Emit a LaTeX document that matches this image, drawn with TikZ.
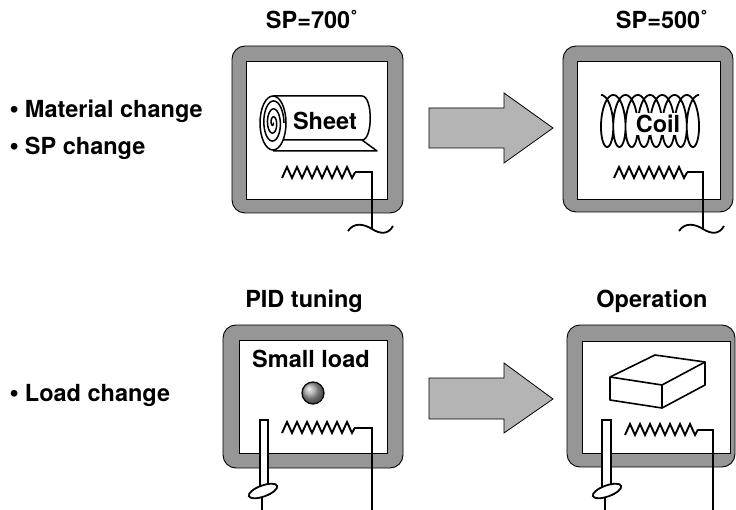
\documentclass[tikz,border=0pt]{standalone}
\usepackage{fontspec}
\setmainfont{TeX Gyre Heros}
\newfontfamily\bulletfont{Liberation Sans}
\definecolor{framegray}{RGB}{150,150,150}
\definecolor{arrowgray}{RGB}{180,180,180}
\begin{document}
\begin{tikzpicture}[x=1pt,y=-1pt,
  txt/.style={font=\fontsize{23.5}{28}\selectfont\bfseries, inner sep=0pt, anchor=base},
  bullet/.style={txt, anchor=base west},
  frame/.style={draw=black, line width=0.9pt, fill=framegray, rounded corners=13pt},
  window/.style={draw=black, line width=0.9pt, fill=white},
  wire/.style={line width=2pt},
  thin/.style={line width=1.5pt, line join=round},
  bigarrow/.style={draw=black, line width=0.8pt, fill=arrowgray, line join=miter},
  heater/.pic={
    \draw[line width=1.9pt, line join=miter, miter limit=6]
      (0,0) \foreach \i in {0,...,6}{ -- ++(5,-11) -- ++(5,11)} -- ++(3,-5.5) coordinate (-end);
  },
  tilde/.pic={
    \draw[line width=1.8pt] (-24,2) .. controls (-18,-7) and (-8,-5) .. (0,0)
      .. controls (8,5) and (16,6) .. (21,-3);
  }]
\useasboundingbox (0,0) rectangle (736,510);

% ---- left-hand captions
\node[bullet] (mat)  at (10,118) {{\bulletfont •} Material change};
\node[bullet] (spc)  at (10,155) {{\bulletfont •} SP change};
\node[bullet] (load) at (10,401) {{\bulletfont •} Load change};

% ---- furnace: sheet material
\node[txt] (sp1) at (312,29) {SP=700˚};
\draw[frame]  (232,46) rectangle (403,213);
\draw[window] (246,61) rectangle (387,199);
\draw[thin, fill=white] (273,96) -- (362,96) .. controls (373,96) and (373,140) .. (362,140) -- (273,140);
\draw[thin, fill=white] (280,140) -- (362,140) -- (377,151) -- (273,151);
\draw[thin, fill=white] (273,123) ellipse [x radius=13, y radius=27];
\draw[thin] plot[domain=0:18.85, samples=160, smooth]
  ({273 + 11*(\x/18.85)*cos(\x r)}, {123 + 24*(\x/18.85)*sin(\x r)});
\node[txt] (sheet) at (325,130) {Sheet};
\pic (h1) at (282,178) {heater};
\coordinate (t1) at (372,229);
\draw[wire] (h1-end) -| (t1);
\pic at (t1) {tilde};

% ---- furnace: coil material
\node[txt] (sp2) at (662,29) {SP=500˚};
\draw[frame]  (563,46) rectangle (733,212);
\draw[window] (577,61) rectangle (720,199);
\draw[line width=1.8pt] plot[domain=0:50.27, samples=500, smooth]
  ({601 + 1.95*\x + 9*sin(\x r)}, {121 - 26*cos(\x r)});
\node[txt, fill=white, inner xsep=3pt, inner ysep=2pt] (coil) at (658,133) {Coil};
\pic (h2) at (614,178) {heater};
\coordinate (t2) at (703,229);
\draw[wire] (h2-end) -| (t2);
\pic at (t2) {tilde};

% ---- transition arrows
\draw[bigarrow] (429,108) -- (504,108) -- (504,93) -- (553,128) -- (504,163) -- (504,148) -- (429,148) -- cycle;
\draw[bigarrow] (429,378) -- (504,378) -- (504,363) -- (553,399) -- (504,433) -- (504,419) -- (429,419) -- cycle;

% ---- furnace: PID tuning with small load
\node[txt] (pid) at (304,308) {PID tuning};
\draw[frame]  (223,325) rectangle (403,468);
\draw[window] (239,340) rectangle (387,453);
\node[txt] (small) at (311,368) {Small load};
\shade[ball color=gray!70!white] (313,393) circle (11);
\draw[line width=1.2pt] (313,393) circle (11);
\pic (h3) at (282,433) {heater};
\coordinate (w3) at (372,510);
\draw[wire] (h3-end) -| (w3);
\draw[line width=1.4pt, fill=white] (260,420) rectangle (268,489);
\draw[line width=1.8pt, fill=white, rotate around={20:(263,491)}] (263,491) ellipse [x radius=15, y radius=5.5];
\draw[wire] (262,497) -- (262,510);

% ---- furnace: normal operation with block load
\node[txt] (op) at (652,308) {Operation};
\draw[frame]  (567,325) rectangle (735,467);
\draw[window] (582,341) rectangle (730,453);
\draw[thin, line width=1.6pt, fill=white] (610,377) -- (655,355) -- (705,362) -- (705,385) -- (662,408) -- (610,400) -- cycle;
\draw[thin, line width=1.6pt] (610,377) -- (662,385) -- (705,362) (662,385) -- (662,408);
\pic (h4) at (625,435) {heater};
\coordinate (w4) at (713,510);
\draw[wire] (h4-end) -| (w4);
\draw[line width=1.4pt, fill=white] (602,420) rectangle (611,489);
\draw[line width=1.8pt, fill=white, rotate around={20:(607,491)}] (607,491) ellipse [x radius=15, y radius=5.5];
\draw[wire] (605,497) -- (605,510);
\end{tikzpicture}
\end{document}
